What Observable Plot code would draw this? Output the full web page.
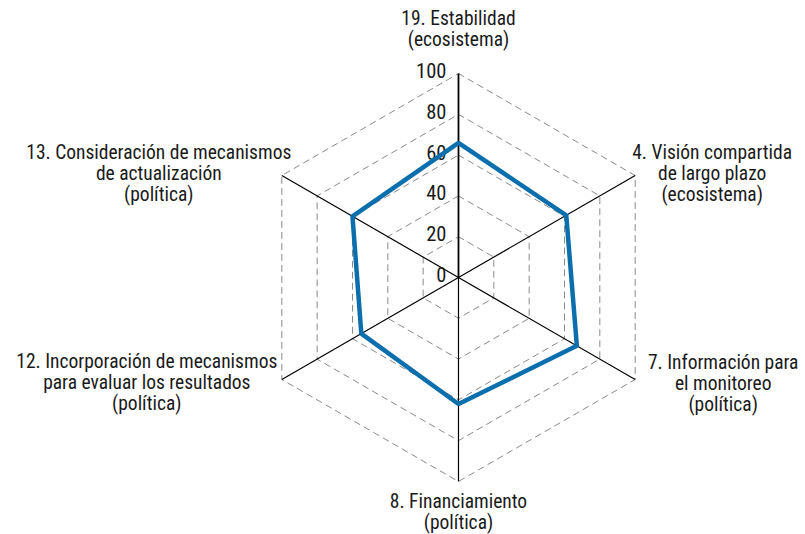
<!DOCTYPE html>
<html>
<head>
<meta charset="utf-8">
<script src="https://cdn.jsdelivr.net/npm/d3@7"></script>
<script src="https://cdn.jsdelivr.net/npm/@observablehq/plot@0.6"></script>
<style>
  html, body { margin: 0; padding: 0; background: #fff; }
  #chart svg { display: block; }
</style>
</head>
<body>
<div id="chart"></div>
<script>
const categories = [
  "19. Estabilidad\n(ecosistema)",
  "4. Visión compartida\nde largo plazo\n(ecosistema)",
  "7. Información para\nel monitoreo\n(política)",
  "8. Financiamiento\n(política)",
  "12. Incorporación de mecanismos\npara evaluar los resultados\n(política)",
  "13. Consideración de mecanismos\nde actualización\n(política)"
];
const values = [66, 61, 67, 62, 55, 60];
const ticks = [0, 20, 40, 60, 80, 100];

// label offsets (px) from the axis ends
const labelDx = [0, 77, 88, 0, -135, -123];
const labelDy = [-45, -2, 4, 30, 3, -2];

const ang = i => Math.PI / 2 - i * Math.PI / 3;
const pt = (v, i) => ({x: v * Math.cos(ang(i)), y: v * Math.sin(ang(i))});

const series = values.map((v, i) => ({...pt(v, i), v}));
const grid = ticks.filter(t => t > 0).flatMap(r => categories.map((c, i) => ({r, ...pt(r, i)})));
const spokes = categories.map((c, i) => {
  const e = pt(100, i);
  return {i, x1: 0, y1: 0, x2: e.x, y2: e.y};
});
const labels = categories.map((c, i) => ({label: c, i, ...pt(100, i)}));
const tickData = ticks.map(t => ({t, x: 0, y: t}));

const font = "'Roboto Condensed', 'DejaVu Sans Condensed', 'Liberation Sans Narrow', Roboto, sans-serif";

const marks = [
  Plot.line(grid, {x: "x", y: "y", z: "r", curve: "linear-closed", stroke: "#8a8a8a", strokeWidth: 1, strokeDasharray: "6,5"}),
  Plot.link(spokes, {x1: "x1", y1: "y1", x2: "x2", y2: "y2", stroke: "#000", strokeWidth: d => d.i === 0 ? 1.8 : 1.2}),
  Plot.text(tickData, {x: "x", y: "y", text: d => String(d.t), textAnchor: "end", dx: -12, dy: -2, fontSize: 20.5, fill: "#1a1a1a", fontFamily: font}),
  Plot.line(series, {x: "x", y: "y", curve: "linear-closed", stroke: "#0b6fae", strokeWidth: 4.5, strokeLinejoin: "miter"})
];
labels.forEach((d, i) => {
  marks.push(Plot.text([d], {x: "x", y: "y", text: "label", textAnchor: "middle", lineAnchor: "middle",
    dx: labelDx[i], dy: labelDy[i], fontSize: 19.5, lineHeight: 1.08, fill: "#1a1a1a", fontFamily: font}));
});

const chart = Plot.plot({
  width: 805,
  height: 534,
  margin: 0,
  x: {domain: [-224.5, 170.1], axis: null},
  y: {domain: [-126, 135.8], axis: null},
  style: {background: "#fff"},
  marks
});
document.getElementById("chart").appendChild(chart);
</script>
</body>
</html>
